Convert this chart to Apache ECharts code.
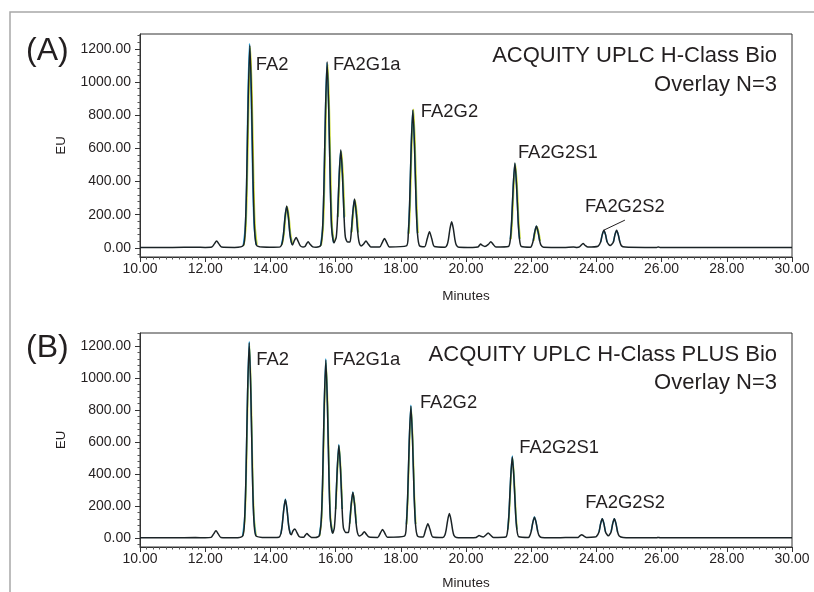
<!DOCTYPE html>
<html>
<head>
<meta charset="utf-8">
<script src="https://cdn.jsdelivr.net/npm/echarts@6/dist/echarts.min.js"></script>
<style>
  html, body { margin: 0; padding: 0; background: #fff; }
  #chart { width: 814px; height: 592px; }
</style>
</head>
<body>
<div id="chart"></div>
<script>
// y tick values (both panels)
const yTicks = [0, 200, 400, 600, 800, 1000, 1200];
const yMinorTicks = [-40, 40, 80, 120, 160, 240, 280, 320, 360, 440, 480, 520, 560, 640, 680, 720, 760,
  840, 880, 920, 960, 1040, 1080, 1120, 1160, 1240, 1280];

// Panel A - H-Class Bio, three injections
const traceA1 = [[10.0, 3], [11.0, 3], [11.7, 4], [12.0, 3],
  [12.20, 5], [12.28, 24], [12.35, 42], [12.42, 24], [12.50, 5], [12.9, 3],
  [13.17, 15], [13.23, 125], [13.27, 382], [13.32, 907], [13.37, 1222], [13.42, 907], [13.47, 385], [13.51, 130], [13.57, 18], [13.75, 5], [14.1, 4],
  [14.30, 6], [14.36, 28], [14.40, 80], [14.45, 188], [14.50, 252], [14.55, 188], [14.60, 82], [14.64, 35],
  [14.68, 18], [14.73, 42], [14.79, 62], [14.85, 40], [14.92, 12], [15.00, 5],
  [15.06, 8], [15.11, 25], [15.16, 37], [15.21, 24], [15.30, 6], [15.40, 4],
  [15.54, 14], [15.60, 115], [15.64, 350], [15.69, 830], [15.74, 1122], [15.79, 830], [15.84, 352], [15.88, 118], [15.95, 30],
  [16.02, 65], [16.06, 185], [16.11, 440], [16.16, 592], [16.21, 440], [16.26, 185], [16.30, 65], [16.37, 35],
  [16.44, 35], [16.48, 93], [16.53, 218], [16.58, 295], [16.63, 218], [16.68, 93], [16.72, 35], [16.78, 12],
  [16.86, 24], [16.93, 42], [17.00, 24], [17.08, 6],
  [17.35, 5], [17.43, 32], [17.50, 57], [17.57, 32], [17.65, 6],
  [18.17, 12], [18.23, 86], [18.27, 260], [18.32, 617], [18.37, 832], [18.42, 617], [18.47, 262], [18.51, 90], [18.57, 14],
  [18.73, 7], [18.81, 55], [18.88, 97], [18.95, 55], [19.03, 8],
  [19.36, 4], [19.42, 18], [19.46, 50], [19.51, 117], [19.56, 157], [19.61, 117], [19.66, 50], [19.70, 18], [19.78, 4], [20.2, 3],
  [20.36, 5], [20.41, 15], [20.45, 23], [20.50, 15], [20.58, 9], [20.69, 22], [20.76, 37], [20.83, 22], [20.92, 5],
  [21.30, 8], [21.36, 53], [21.40, 160], [21.45, 378], [21.50, 512], [21.55, 378], [21.60, 160], [21.64, 55], [21.70, 8],
  [21.98, 4], [22.02, 16], [22.06, 42], [22.11, 98], [22.16, 132], [22.21, 98], [22.26, 42], [22.30, 16], [22.38, 4],
  [23.0, 3], [23.3, 5], [23.4, 3],
  [23.48, 6], [23.53, 16], [23.59, 27], [23.65, 16], [23.74, 5],
  [24.05, 10], [24.13, 35], [24.18, 80], [24.23, 107], [24.28, 80], [24.33, 35], [24.42, 14],
  [24.52, 35], [24.57, 80], [24.62, 107], [24.67, 80], [24.72, 35], [24.77, 12], [24.88, 5],
  [25.5, 3], [25.85, 3], [25.9, 6], [25.95, 3], [30.0, 3]];

const traceA2 = [[13.17, 15], [13.23, 128], [13.27, 390], [13.31, 900], [13.36, 1232], [13.41, 915], [13.46, 392], [13.50, 132], [13.56, 18], '-',
  [14.34, 20], [14.40, 82], [14.45, 190], [14.50, 248], [14.55, 186], [14.60, 80], [14.66, 22], '-',
  [15.54, 14], [15.60, 118], [15.64, 355], [15.69, 835], [15.735, 1115], [15.79, 826], [15.84, 348], [15.88, 116], [15.94, 30], '-',
  [16.06, 185], [16.11, 442], [16.155, 586], [16.21, 436], [16.26, 182], '-',
  [16.48, 92], [16.53, 215], [16.575, 290], [16.63, 216], [16.68, 92], '-',
  [18.23, 86], [18.27, 262], [18.32, 622], [18.365, 826], [18.42, 612], [18.47, 258], [18.51, 88], '-',
  [21.36, 53], [21.40, 160], [21.45, 380], [21.50, 508], [21.55, 376], [21.60, 158], [21.64, 55], '-',
  [22.06, 42], [22.11, 98], [22.16, 130], [22.21, 96], [22.26, 42], '-',
  [24.13, 35], [24.18, 80], [24.23, 104], [24.28, 80], [24.33, 35], '-',
  [24.52, 35], [24.57, 80], [24.62, 104], [24.67, 80], [24.72, 35]];

const traceA3 = [[13.19, 15], [13.25, 125], [13.29, 385], [13.34, 905], [13.385, 1210], [13.44, 910], [13.49, 395], [13.53, 135], [13.59, 18], '-',
  [14.36, 20], [14.42, 84], [14.47, 192], [14.52, 246], [14.57, 190], [14.62, 84], [14.68, 22], '-',
  [15.56, 14], [15.62, 118], [15.66, 352], [15.71, 832], [15.76, 1108], [15.81, 836], [15.86, 360], [15.90, 120], [15.96, 30], '-',
  [16.08, 188], [16.13, 445], [16.18, 580], [16.23, 445], [16.28, 188], '-',
  [16.50, 94], [16.55, 218], [16.60, 288], [16.65, 220], [16.70, 94], '-',
  [18.25, 86], [18.29, 262], [18.34, 625], [18.39, 836], [18.44, 625], [18.49, 266], [18.53, 90], '-',
  [21.38, 53], [21.42, 160], [21.47, 378], [21.515, 505], [21.57, 378], [21.62, 160], [21.66, 55], '-',
  [22.08, 42], [22.13, 98], [22.18, 128], [22.23, 98], [22.28, 42]];

// Panel B - H-Class PLUS Bio, three injections
const traceB1 = [[10.0, 2], [11.0, 2], [11.7, 3], [12.0, 2],
  [12.18, 4], [12.26, 26], [12.33, 46], [12.40, 26], [12.48, 4], [12.9, 2],
  [13.15, 14], [13.21, 124], [13.25, 380], [13.30, 904], [13.35, 1220], [13.40, 904], [13.45, 384], [13.49, 128], [13.55, 16], [13.75, 4], [14.1, 3],
  [14.26, 5], [14.32, 26], [14.36, 76], [14.41, 178], [14.46, 240], [14.51, 178], [14.56, 78], [14.60, 32],
  [14.64, 20], [14.69, 44], [14.75, 57], [14.81, 36], [14.88, 10], [14.97, 5],
  [15.03, 6], [15.07, 18], [15.12, 28], [15.17, 18], [15.26, 4], [15.38, 3],
  [15.50, 14], [15.56, 112], [15.60, 345], [15.65, 822], [15.70, 1112], [15.75, 822], [15.80, 348], [15.84, 116], [15.91, 30],
  [15.96, 62], [16.00, 180], [16.05, 430], [16.10, 580], [16.15, 430], [16.20, 182], [16.24, 64], [16.31, 35],
  [16.39, 34], [16.43, 90], [16.48, 212], [16.53, 286], [16.58, 212], [16.63, 90], [16.67, 34], [16.73, 12],
  [16.81, 22], [16.88, 39], [16.95, 22], [17.03, 6],
  [17.29, 4], [17.37, 30], [17.44, 53], [17.51, 30], [17.59, 5],
  [18.11, 12], [18.17, 85], [18.21, 256], [18.26, 610], [18.31, 823], [18.36, 610], [18.41, 258], [18.45, 88], [18.51, 14],
  [18.68, 6], [18.76, 51], [18.83, 89], [18.90, 51], [18.98, 7],
  [19.29, 4], [19.35, 17], [19.39, 49], [19.44, 114], [19.49, 153], [19.54, 114], [19.59, 49], [19.63, 17], [19.71, 4], [20.1, 2],
  [20.31, 4], [20.36, 11], [20.40, 16], [20.45, 11], [20.53, 7], [20.61, 19], [20.68, 32], [20.75, 19], [20.84, 4],
  [21.22, 7], [21.28, 53], [21.32, 158], [21.37, 375], [21.42, 507], [21.47, 375], [21.52, 158], [21.56, 54], [21.62, 8],
  [21.92, 4], [21.96, 16], [22.00, 42], [22.05, 97], [22.10, 130], [22.15, 97], [22.20, 42], [22.24, 16], [22.32, 4],
  [22.9, 2], [23.2, 4], [23.3, 3],
  [23.44, 4], [23.49, 13], [23.55, 21], [23.61, 13], [23.70, 4],
  [23.95, 6], [24.00, 10], [24.08, 38], [24.13, 90], [24.18, 120], [24.23, 90], [24.28, 38], [24.365, 14],
  [24.45, 38], [24.50, 90], [24.55, 120], [24.60, 90], [24.65, 38], [24.70, 13], [24.82, 4],
  [25.4, 2], [25.85, 2], [25.9, 4], [25.95, 2], [30.0, 2]];

const traceB2 = [[13.15, 14], [13.21, 126], [13.25, 384], [13.30, 910], [13.35, 1228], [13.40, 908], [13.45, 386], [13.49, 128], [13.55, 16], '-',
  [14.32, 26], [14.36, 78], [14.41, 180], [14.46, 244], [14.51, 180], [14.56, 78], [14.62, 24], '-',
  [15.50, 14], [15.56, 114], [15.60, 348], [15.65, 826], [15.70, 1120], [15.75, 826], [15.80, 350], [15.84, 116], [15.91, 30], '-',
  [16.00, 182], [16.05, 432], [16.10, 584], [16.15, 432], [16.20, 182], '-',
  [16.43, 91], [16.48, 214], [16.53, 288], [16.58, 214], [16.63, 91], '-',
  [18.17, 86], [18.21, 258], [18.26, 614], [18.31, 830], [18.36, 614], [18.41, 260], [18.45, 88], '-',
  [21.28, 53], [21.32, 159], [21.37, 378], [21.42, 512], [21.47, 378], [21.52, 159], [21.56, 54], '-',
  [22.00, 42], [22.05, 98], [22.10, 131], [22.15, 98], [22.20, 42], '-',
  [24.08, 38], [24.13, 90], [24.18, 121], [24.23, 90], [24.28, 38], '-',
  [24.45, 38], [24.50, 90], [24.55, 121], [24.60, 90], [24.65, 38]];

const traceB3 = [[13.16, 14], [13.22, 124], [13.26, 380], [13.31, 900], [13.36, 1205], [13.41, 902], [13.46, 388], [13.50, 130], [13.56, 16], '-',
  [15.51, 14], [15.57, 112], [15.61, 344], [15.66, 820], [15.71, 1095], [15.76, 824], [15.81, 352], [15.85, 118], [15.92, 30], '-',
  [16.01, 180], [16.06, 428], [16.11, 572], [16.16, 430], [16.21, 184], '-',
  [16.44, 90], [16.49, 210], [16.54, 280], [16.59, 212], [16.64, 92], '-',
  [18.18, 85], [18.22, 256], [18.27, 606], [18.32, 814], [18.37, 608], [18.42, 260], [18.46, 88], '-',
  [21.29, 53], [21.33, 158], [21.38, 372], [21.43, 500], [21.48, 374], [21.53, 160], [21.57, 54]];

// peak annotations
const peakNames = ['FA2', 'FA2G1a', 'FA2G2', 'FA2G2S1', 'FA2G2S2'];
const peakTimesA = [13.37, 15.74, 18.37, 21.50, 24.23];
const peakTimesB = [13.35, 15.70, 18.31, 21.42, 24.18];

const FONT = "'Liberation Sans', Arial, sans-serif";
const TXT = '#231f20';
const lblOffsetA = [[6, 20], [6, 3], [8, 2], [3, -10], [-19, -23]];
const lblOffsetB = [[7, 17], [7, 0], [9, -3], [7, -9], [-17, -16]];

function apex(trace, t) {
  const p = trace.find(d => d !== '-' && Math.abs(d[0] - t) < 1e-6);
  return p ? p[1] : 0;
}

function markPts(trace, times, offsets) {
  return times.map((t, i) => ({
    coord: [t, apex(trace, t)],
    symbol: 'circle',
    symbolSize: 0,
    label: {
      show: true,
      position: offsets[i],
      formatter: peakNames[i],
      align: 'left',
      verticalAlign: 'middle',
      fontSize: 18.4,
      fontFamily: FONT,
      color: TXT
    }
  }));
}

function trace(data, color, gi, z, marks) {
  const s = {
    type: 'line',
    xAxisIndex: gi,
    yAxisIndex: gi * 2,
    data: data,
    symbol: 'none',
    smooth: 0.25,
    connectNulls: false,
    silent: true,
    z: z,
    lineStyle: { color: color, width: 1.5 }
  };
  if (marks) s.markPoint = { silent: true, data: marks, animation: false };
  return s;
}

const fmt2 = v => Number(v).toFixed(2);

function xAxisFor(gi, gap) {
  return {
    type: 'value', gridIndex: gi, min: 10, max: 30, interval: 2,
    name: 'Minutes', nameLocation: 'middle', nameGap: gap,
    nameTextStyle: { fontSize: 13.5, fontFamily: FONT, color: TXT },
    axisLine: { onZero: false, lineStyle: { color: '#333', width: 1 } },
    axisTick: { length: 5, lineStyle: { color: '#333' } },
    minorTick: { show: true, splitNumber: 10, length: 2.5, lineStyle: { color: '#555' } },
    axisLabel: { formatter: fmt2, fontSize: 14, fontFamily: FONT, color: TXT, margin: 5 },
    splitLine: { show: false }
  };
}

function yAxesFor(gi, min, max) {
  return [{
    type: 'value', gridIndex: gi, min: min, max: max,
    name: 'EU', nameLocation: 'middle', nameGap: 72, nameMoveOverlap: false,
    nameTextStyle: { fontSize: 13, fontFamily: FONT, color: TXT },
    axisLine: { lineStyle: { color: '#333', width: 1 } },
    axisTick: { length: 5, customValues: yTicks, lineStyle: { color: '#333' } },
    axisLabel: { customValues: yTicks, formatter: fmt2, fontSize: 14, fontFamily: FONT, color: TXT, margin: 9 },
    splitLine: { show: false }
  }, {
    type: 'value', gridIndex: gi, min: min, max: max, position: 'left',
    axisLine: { show: false },
    axisTick: { show: true, length: 2.5, customValues: yMinorTicks, lineStyle: { color: '#555' } },
    axisLabel: { show: false },
    splitLine: { show: false }
  }];
}

const chart = echarts.init(document.getElementById('chart'), null, { renderer: 'canvas' });

chart.setOption({
  animation: false,
  backgroundColor: '#fff',
  textStyle: { fontFamily: FONT },
  grid: [
    { left: 140, right: 22, top: 34, height: 223, show: true, borderColor: '#333', borderWidth: 1, containLabel: false },
    { left: 140, right: 22, top: 333, height: 214, show: true, borderColor: '#333', borderWidth: 1, containLabel: false }
  ],
  xAxis: [xAxisFor(0, 32), xAxisFor(1, 29)],
  yAxis: [...yAxesFor(0, -55, 1290), ...yAxesFor(1, -56, 1281)],
  series: [
    trace(traceA3, '#c8d62b', 0, 2),
    trace(traceA2, '#27a6df', 0, 3),
    trace(traceA1, '#1b2326', 0, 4, markPts(traceA1, peakTimesA, lblOffsetA)),
    trace(traceB3, '#c8d62b', 1, 2),
    trace(traceB2, '#27a6df', 1, 3),
    trace(traceB1, '#1b2326', 1, 4, markPts(traceB1, peakTimesB, lblOffsetB))
  ],
  graphic: [
    { type: 'rect', shape: { x: 10, y: 12, width: 900, height: 700 }, style: { fill: 'none', stroke: '#a8a8a8', lineWidth: 1.5 }, z: 0 },
    { type: 'text', left: 26, top: 35, style: { text: '(A)', font: '32px ' + FONT, fill: TXT } },
    { type: 'text', left: 26, top: 332, style: { text: '(B)', font: '32px ' + FONT, fill: TXT } },
    { type: 'text', right: 37, top: 45, style: { text: 'ACQUITY UPLC H-Class Bio', font: '22px ' + FONT, fill: TXT } },
    { type: 'text', right: 37, top: 74, style: { text: 'Overlay N=3', font: '22px ' + FONT, fill: TXT } },
    { type: 'text', right: 37, top: 344, style: { text: 'ACQUITY UPLC H-Class PLUS Bio', font: '22px ' + FONT, fill: TXT } },
    { type: 'text', right: 37, top: 372, style: { text: 'Overlay N=3', font: '22px ' + FONT, fill: TXT } }
  ]
});

// leader line from the first FA2G2S2 peak (panel A) to its label
const tip = chart.convertToPixel({ gridIndex: 0 }, [peakTimesA[4], apex(traceA1, peakTimesA[4])]);
chart.setOption({
  graphic: [{
    type: 'line', id: 'leader',
    shape: { x1: tip[0], y1: tip[1], x2: tip[0] + 21, y2: tip[1] - 10 },
    style: { stroke: TXT, lineWidth: 1 }, z: 10
  }]
});
</script>
</body>
</html>
